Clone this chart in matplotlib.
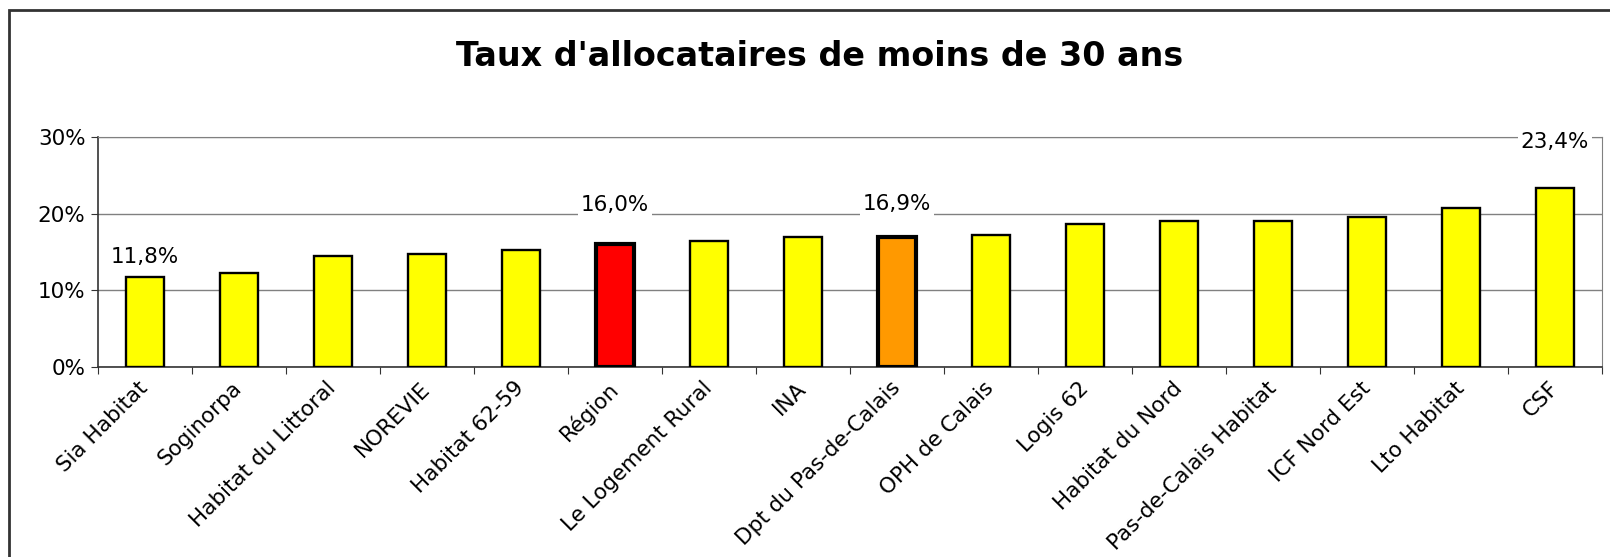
import matplotlib
matplotlib.use("Agg")
from matplotlib import pyplot as plt
from matplotlib.patches import Rectangle
from matplotlib.ticker import FuncFormatter
from matplotlib.transforms import ScaledTranslation

categories = ["Sia Habitat", "Soginorpa", "Habitat du Littoral", "NOREVIE",
              "Habitat 62-59", "Région", "Le Logement Rural", "INA",
              "Dpt du Pas-de-Calais", "OPH de Calais", "Logis 62",
              "Habitat du Nord", "Pas-de-Calais Habitat", "ICF Nord Est",
              "Lto Habitat", "CSF"]
values = [11.8, 12.3, 14.5, 14.8, 15.3, 16.0, 16.4, 16.9,
          16.9, 17.2, 18.6, 19.1, 19.1, 19.6, 20.7, 23.4]
labelled = ["Sia Habitat", "Région", "Dpt du Pas-de-Calais", "CSF"]
title = "Taux d'allocataires de moins de 30 ans"

highlight = {"Région": "#FF0000", "Dpt du Pas-de-Calais": "#FF9900"}
label_offset = {"Sia Habitat": 20, "Région": 39, "Dpt du Pas-de-Calais": 33, "CSF": 46}

plt.rcParams["font.family"] = ["DejaVu Sans"]

W, H = 1610, 557
fig = plt.figure(figsize=(W / 100, H / 100), dpi=100)

# outer chart frame (only top and left edges visible)
fig.patches.append(Rectangle((9 / W, -0.1), 1.2, 1 - 10 / H + 0.1,
                             transform=fig.transFigure, fill=False,
                             edgecolor="#333333", linewidth=2))

ax = fig.add_axes([98 / W, (H - 367) / H, (1602 - 98) / W, 230 / H])

x = range(len(categories))
colors = [highlight.get(c, "#FFFF00") for c in categories]
widths = [3 if c in highlight else 1.7 for c in categories]
ax.bar(x, values, width=0.4, color=colors, edgecolor="black", linewidth=widths, zorder=3)

for i, (c, v) in enumerate(zip(categories, values)):
    if c in labelled:
        ax.annotate(("%.1f%%" % v).replace(".", ","), (i, v),
                    xytext=(0, label_offset[c]), textcoords="offset pixels",
                    ha="center", va="center", fontsize=15.5, zorder=4,
                    bbox=dict(facecolor="white", edgecolor="none", pad=2))

ax.set_xlim(-0.5, len(categories) - 0.5)
ax.set_ylim(0, 30)
ax.set_yticks([0, 10, 20, 30])
ax.yaxis.set_major_formatter(FuncFormatter(lambda v, p: "%d%%" % v))
ax.grid(axis="y", color="#808080", linewidth=1, zorder=1)

ax.set_xticks([i + 0.5 for i in range(-1, len(categories))], minor=False)
ax.set_xticklabels([])
ax.set_xticks(list(x), minor=True)
ax.set_xticklabels(categories, minor=True, rotation=45, ha="right", va="center",
                   rotation_mode="anchor", fontsize=15.5)
shift = ScaledTranslation(-6 / 100, 0, fig.dpi_scale_trans)
for lab in ax.get_xticklabels(minor=True):
    lab.set_transform(lab.get_transform() + shift)
ax.tick_params(axis="x", which="minor", length=0, pad=13)
ax.tick_params(axis="x", which="major", length=5, direction="out", color="#333333")
ax.tick_params(axis="y", length=5, direction="out", color="#333333", labelsize=15.5, pad=4)

for s in ["top", "right"]:
    ax.spines[s].set_color("#808080")
for s in ["left", "bottom"]:
    ax.spines[s].set_color("#333333")
    ax.spines[s].set_linewidth(1.2)

fig.text(0.509, 1 - 56 / H, title, ha="center", va="center",
         fontsize=24, fontweight="bold")

fig.savefig("out.png", dpi=100)
